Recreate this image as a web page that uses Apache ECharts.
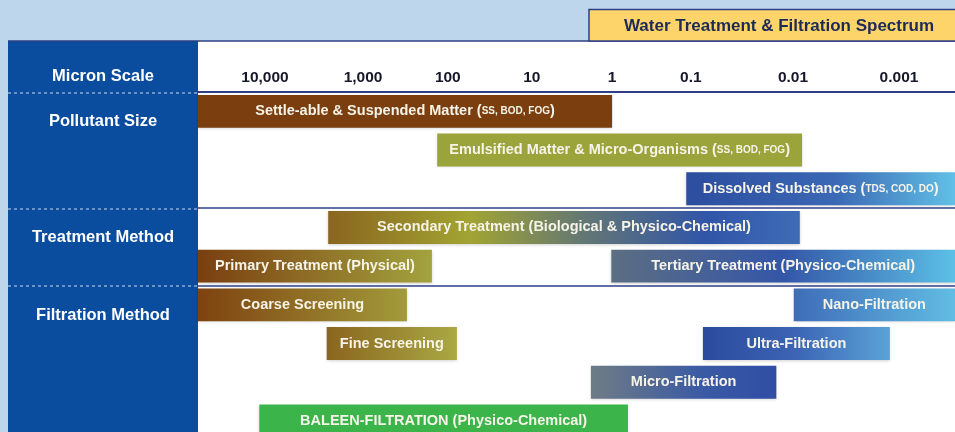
<!DOCTYPE html>
<html>
<head>
<meta charset="utf-8">
<style>
  html, body { margin: 0; padding: 0; background: #bed6ec; }
  #chart { width: 955px; height: 432px; }
</style>
<script src="https://cdn.jsdelivr.net/npm/echarts@6/dist/echarts.min.js"></script>
</head>
<body>
<div id="chart"></div>
<script>
// micron scale ticks (position on the spectrum, 0-100 across the white area)
const tickLabels = ['10,000', '1,000', '100', '10', '1', '0.1', '0.01', '0.001'];
const tickPos = [8.85, 21.8, 33.0, 44.1, 54.7, 65.1, 78.6, 92.6];

// rows of the spectrum (top to bottom)
const rows = ['r1', 'r2', 'r3', 'r4', 'r5', 'r6', 'r7', 'r8', 'r9'];

// bars
const barNames = [
    'Settle-able & Suspended Matter',
    'Emulsified Matter & Micro-Organisms',
    'Dissolved Substances',
    'Secondary Treatment (Biological & Physico-Chemical)',
    'Primary Treatment (Physical)',
    'Tertiary Treatment (Physico-Chemical)',
    'Coarse Screening',
    'Nano-Filtration',
    'Fine Screening',
    'Ultra-Filtration',
    'Micro-Filtration',
    'BALEEN-FILTRATION (Physico-Chemical)'
];
const barNotes = ['SS, BOD, FOG', 'SS, BOD, FOG', 'TDS, COD, DO', '', '', '', '', '', '', '', '', ''];
const barRow = [0, 1, 2, 3, 4, 4, 5, 5, 6, 6, 7, 8];
const barStart = [0, 31.6, 64.5, 17.2, 0, 54.6, 0, 78.7, 17.0, 66.7, 51.9, 8.1];
const barEnd = [54.7, 79.8, 100, 79.5, 30.9, 100, 27.6, 100, 34.2, 91.4, 76.4, 56.8];

// group labels for the left panel
const groupLabels = ['Micron Scale', 'Pollutant Size', 'Treatment Method', 'Filtration Method'];

// colour stops for each bar (left to right)
const barColors = [
    [['#7b3e0e', 0], ['#7b3e0e', 1]],
    [['#9aa43b', 0], ['#9aa43b', 1]],
    [['#2d4d9e', 0], ['#3a68b4', 0.55], ['#62c0e6', 1]],
    [['#8a6520', 0], ['#a2a432', 0.3], ['#617676', 0.55], ['#3155a8', 0.8], ['#3e6cb6', 1]],
    [['#7a3e10', 0], ['#a3a33e', 1]],
    [['#5c6e82', 0], ['#3456a8', 0.5], ['#5cc0e6', 1]],
    [['#7e4210', 0], ['#a29b3a', 1]],
    [['#3f6cb8', 0], ['#61bde3', 1]],
    [['#8a6520', 0], ['#aaa943', 1]],
    [['#2b4a9e', 0], ['#3c65b4', 0.5], ['#5aa3d8', 1]],
    [['#6f7c86', 0], ['#3a5aa4', 0.6], ['#2f4ea5', 1]],
    [['#3bb54a', 0], ['#3bb54a', 1]]
];

const FONT = '"Liberation Sans", Arial, sans-serif';

let chart = echarts.init(document.getElementById('chart'));

let barData = barNames.map(function (name, i) {
    return [barRow[i], barStart[i], barEnd[i], i];
});

function panelText(label, y) {
    return {
        type: 'text', z: 6, x: 103, y: y,
        style: { text: label, font: 'bold 16.5px ' + FONT, fill: '#ffffff', align: 'center', verticalAlign: 'middle' }
    };
}

function dashLine(y) {
    return {
        type: 'line', z: 5, shape: { x1: 8, y1: y, x2: 198, y2: y },
        style: { stroke: '#ffffff', lineWidth: 1, lineDash: [3, 3], opacity: 0.8 }
    };
}

let option = {
    backgroundColor: '#bed6ec',
    animation: false,
    graphic: [
        { type: 'rect', z: -10, shape: { x: 198, y: 41, width: 757, height: 391 }, style: { fill: '#ffffff' } },
        { type: 'rect', z: -10, shape: { x: 8, y: 41, width: 190, height: 391 }, style: { fill: '#0a4c9e' } },
        { type: 'line', z: 5, shape: { x1: 8, y1: 41, x2: 955, y2: 41 }, style: { stroke: '#2d3f86', lineWidth: 1.5 } },
        { type: 'rect', z: 5, shape: { x: 589, y: 9.5, width: 370, height: 31.5 }, style: { fill: '#fdd46a', stroke: '#2d3f86', lineWidth: 1.5 } },
        {
            type: 'text', z: 6, x: 779, y: 26,
            style: { text: 'Water Treatment & Filtration Spectrum', font: 'bold 17px ' + FONT, fill: '#1c2a55', align: 'center', verticalAlign: 'middle' }
        },
        dashLine(93), dashLine(209), dashLine(286),
        panelText(groupLabels[0], 76),
        panelText(groupLabels[1], 121),
        panelText(groupLabels[2], 237),
        panelText(groupLabels[3], 315)
    ],
    grid: { left: 198, right: 0, top: 92, height: 348.3, outerBoundsMode: 'none', containLabel: false },
    xAxis: {
        type: 'value',
        position: 'top',
        min: 0,
        max: 100,
        axisLine: { show: true, lineStyle: { color: '#2d3f86', width: 2 } },
        axisTick: { show: false },
        splitLine: { show: false },
        axisLabel: {
            customValues: tickPos,
            margin: 6,
            color: '#15172a',
            fontFamily: FONT,
            fontWeight: 'bold',
            fontSize: 15.5,
            formatter: function (value) {
                let k = tickPos.indexOf(value);
                return k >= 0 ? tickLabels[k] : '';
            }
        }
    },
    yAxis: {
        type: 'category',
        data: rows,
        inverse: true,
        axisLine: { show: false },
        axisTick: { show: false },
        axisLabel: { show: false },
        splitLine: {
            show: true,
            interval: function (index) { return index === 3 || index === 5; },
            lineStyle: { color: '#2d3f86', width: 1.5 }
        }
    },
    series: [
        {
            type: 'custom',
            data: barData,
            encode: { x: [1, 2], y: 0 },
            renderItem: function (params, api) {
                let row = api.value(0);
                let p0 = api.coord([api.value(1), row]);
                let p1 = api.coord([api.value(2), row]);
                let h = api.size([0, 1])[1] * 0.85;
                let idx = api.value(3);
                let stops = barColors[idx].map(function (s) { return { offset: s[1], color: s[0] }; });
                let txt = barNotes[idx]
                    ? '{m|' + barNames[idx] + ' (}{s|' + barNotes[idx] + '}{m|)}'
                    : '{m|' + barNames[idx] + '}';
                return {
                    type: 'rect',
                    shape: { x: p0[0], y: p0[1] - h / 2, width: p1[0] - p0[0], height: h },
                    style: {
                        fill: new echarts.graphic.LinearGradient(0, 0, 1, 0, stops),
                        shadowBlur: 3,
                        shadowColor: 'rgba(0,0,0,0.18)',
                        shadowOffsetY: 1
                    },
                    textContent: {
                        style: {
                            text: txt,
                            rich: {
                                m: { fontFamily: FONT, fontWeight: 'bold', fontSize: 14.5, fill: '#f6f3e8' },
                                s: { fontFamily: FONT, fontWeight: 'bold', fontSize: 10, fill: '#f6f3e8' }
                            }
                        }
                    },
                    textConfig: { position: 'inside' }
                };
            }
        }
    ]
};

chart.setOption(option);
</script>
</body>
</html>
